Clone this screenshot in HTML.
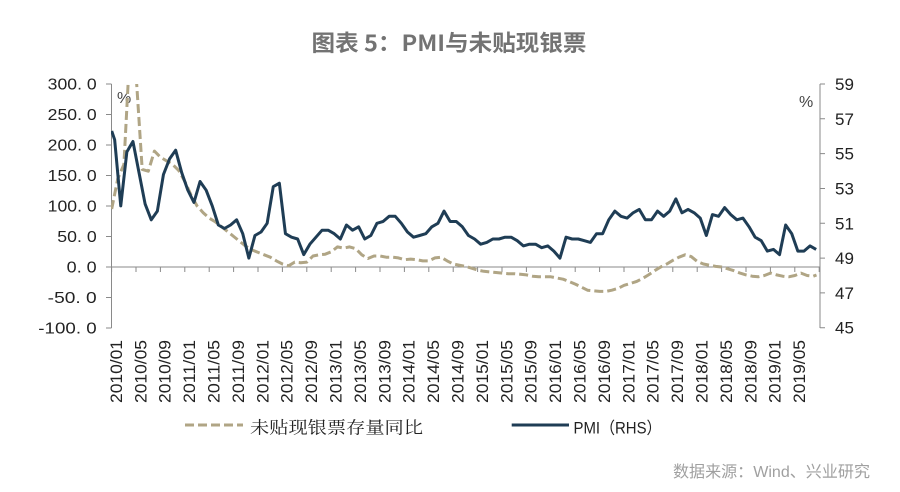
<!DOCTYPE html>
<html><head><meta charset="utf-8"><style>
html,body{margin:0;padding:0;background:#fff;}
svg{display:block;}
.ax{font-family:"Liberation Sans","Noto Sans CJK SC",sans-serif;fill:#222;}
</style></head><body>
<svg width="900" height="492" viewBox="0 0 900 492" xmlns="http://www.w3.org/2000/svg">
<defs><clipPath id="pc"><rect x="111" y="84" width="709" height="245"/></clipPath></defs>
<rect width="900" height="492" fill="#fff"/>
<!-- title -->
<text x="311.5" y="51" font-family="'Noto Sans CJK SC','Liberation Sans',sans-serif" font-size="22.5" font-weight="600" fill="#737373" textLength="275" lengthAdjust="spacingAndGlyphs">图表 5：PMI与未贴现银票</text>

<!-- axes -->
<g stroke="#8a8a8a" stroke-width="1" fill="none">
<line x1="111.5" y1="84" x2="111.5" y2="328"/>
<line x1="820" y1="84" x2="820" y2="328"/>
<line x1="111.5" y1="267" x2="820" y2="267"/>
<path d="M106 84H111.5M106 114.5H111.5M106 145H111.5M106 175.5H111.5M106 206H111.5M106 236.5H111.5M106 267H111.5M106 297.5H111.5M106 328H111.5"/>
<path d="M820 84H825M820 118.8H825M820 153.6H825M820 188.5H825M820 223.3H825M820 258.1H825M820 292.9H825M820 327.7H825"/>
<path d="M111.6 267V272M136 267V272M160.4 267V272M184.8 267V272M209.2 267V272M233.6 267V272M258 267V272M282.4 267V272M306.8 267V272M331.2 267V272M355.6 267V272M380 267V272M404.4 267V272M428.8 267V272M453.2 267V272M477.6 267V272M502 267V272M526.4 267V272M550.8 267V272M575.2 267V272M599.6 267V272M624 267V272M648.4 267V272M672.8 267V272M697.2 267V272M721.6 267V272M746 267V272M770.4 267V272M794.8 267V272M819.2 267V272"/>
</g>

<!-- left labels -->
<g class="ax" font-size="16">
<text x="47.7" y="89.7" textLength="49" lengthAdjust="spacingAndGlyphs">300. 0</text>
<text x="47.7" y="120.2" textLength="49" lengthAdjust="spacingAndGlyphs">250. 0</text>
<text x="47.7" y="150.7" textLength="49" lengthAdjust="spacingAndGlyphs">200. 0</text>
<text x="47.7" y="181.2" textLength="49" lengthAdjust="spacingAndGlyphs">150. 0</text>
<text x="47.7" y="211.7" textLength="49" lengthAdjust="spacingAndGlyphs">100. 0</text>
<text x="57.3" y="242.2" textLength="39.4" lengthAdjust="spacingAndGlyphs">50. 0</text>
<text x="66.7" y="272.7" textLength="30" lengthAdjust="spacingAndGlyphs">0. 0</text>
<text x="47.7" y="303.2" textLength="49" lengthAdjust="spacingAndGlyphs">-50. 0</text>
<text x="38.3" y="333.7" textLength="58.4" lengthAdjust="spacingAndGlyphs">-100. 0</text>
<text x="117" y="103" fill="#444">%</text>
</g>
<!-- right labels -->
<g class="ax" font-size="17">
<text x="835" y="90">59</text>
<text x="835" y="124.8">57</text>
<text x="835" y="159.6">55</text>
<text x="835" y="194.5">53</text>
<text x="835" y="229.3">51</text>
<text x="835" y="264.1">49</text>
<text x="835" y="298.9">47</text>
<text x="835" y="333.7">45</text>
<text x="799" y="107" font-size="16" fill="#444">%</text>
</g>

<!-- x labels -->
<g class="ax" font-size="17">
<text transform="translate(121.85,403) rotate(-90)" textLength="63" lengthAdjust="spacingAndGlyphs">2010/01</text>
<text transform="translate(146.25,403) rotate(-90)" textLength="63" lengthAdjust="spacingAndGlyphs">2010/05</text>
<text transform="translate(170.65,403) rotate(-90)" textLength="63" lengthAdjust="spacingAndGlyphs">2010/09</text>
<text transform="translate(195.05,403) rotate(-90)" textLength="63" lengthAdjust="spacingAndGlyphs">2011/01</text>
<text transform="translate(219.45,403) rotate(-90)" textLength="63" lengthAdjust="spacingAndGlyphs">2011/05</text>
<text transform="translate(243.85,403) rotate(-90)" textLength="63" lengthAdjust="spacingAndGlyphs">2011/09</text>
<text transform="translate(268.25,403) rotate(-90)" textLength="63" lengthAdjust="spacingAndGlyphs">2012/01</text>
<text transform="translate(292.65,403) rotate(-90)" textLength="63" lengthAdjust="spacingAndGlyphs">2012/05</text>
<text transform="translate(317.05,403) rotate(-90)" textLength="63" lengthAdjust="spacingAndGlyphs">2012/09</text>
<text transform="translate(341.45,403) rotate(-90)" textLength="63" lengthAdjust="spacingAndGlyphs">2013/01</text>
<text transform="translate(365.85,403) rotate(-90)" textLength="63" lengthAdjust="spacingAndGlyphs">2013/05</text>
<text transform="translate(390.25,403) rotate(-90)" textLength="63" lengthAdjust="spacingAndGlyphs">2013/09</text>
<text transform="translate(414.65,403) rotate(-90)" textLength="63" lengthAdjust="spacingAndGlyphs">2014/01</text>
<text transform="translate(439.05,403) rotate(-90)" textLength="63" lengthAdjust="spacingAndGlyphs">2014/05</text>
<text transform="translate(463.45,403) rotate(-90)" textLength="63" lengthAdjust="spacingAndGlyphs">2014/09</text>
<text transform="translate(487.85,403) rotate(-90)" textLength="63" lengthAdjust="spacingAndGlyphs">2015/01</text>
<text transform="translate(512.25,403) rotate(-90)" textLength="63" lengthAdjust="spacingAndGlyphs">2015/05</text>
<text transform="translate(536.65,403) rotate(-90)" textLength="63" lengthAdjust="spacingAndGlyphs">2015/09</text>
<text transform="translate(561.05,403) rotate(-90)" textLength="63" lengthAdjust="spacingAndGlyphs">2016/01</text>
<text transform="translate(585.45,403) rotate(-90)" textLength="63" lengthAdjust="spacingAndGlyphs">2016/05</text>
<text transform="translate(609.85,403) rotate(-90)" textLength="63" lengthAdjust="spacingAndGlyphs">2016/09</text>
<text transform="translate(634.25,403) rotate(-90)" textLength="63" lengthAdjust="spacingAndGlyphs">2017/01</text>
<text transform="translate(658.65,403) rotate(-90)" textLength="63" lengthAdjust="spacingAndGlyphs">2017/05</text>
<text transform="translate(683.05,403) rotate(-90)" textLength="63" lengthAdjust="spacingAndGlyphs">2017/09</text>
<text transform="translate(707.45,403) rotate(-90)" textLength="63" lengthAdjust="spacingAndGlyphs">2018/01</text>
<text transform="translate(731.85,403) rotate(-90)" textLength="63" lengthAdjust="spacingAndGlyphs">2018/05</text>
<text transform="translate(756.25,403) rotate(-90)" textLength="63" lengthAdjust="spacingAndGlyphs">2018/09</text>
<text transform="translate(780.65,403) rotate(-90)" textLength="63" lengthAdjust="spacingAndGlyphs">2019/01</text>
<text transform="translate(805.05,403) rotate(-90)" textLength="63" lengthAdjust="spacingAndGlyphs">2019/05</text>
</g>

<!-- series -->
<g clip-path="url(#pc)" fill="none" stroke-linejoin="round">
<polyline stroke="#b0a585" stroke-width="3" stroke-dasharray="9 4" points="111.7,209 117.8,178.6 123.9,164.5 130,47.4 136.1,74.9 142.2,169.4 148.3,171.2 154.4,151.1 160.5,157.2 166.6,160.9 172.7,164.5 178.8,170.6 184.9,181.6 191,195 197.1,206 203.2,212.7 209.3,218.2 215.4,221.9 221.5,226.7 227.6,231.6 233.7,236.5 239.8,241.4 245.9,246.3 252,249.9 258.1,252.4 264.2,254.8 270.3,257.2 276.4,260.9 282.5,264 288.6,265.8 294.7,262.1 300.8,262.7 306.9,262.1 313,256 319.1,254.8 325.2,254.2 331.3,251.8 337.4,246.9 343.5,248.1 349.6,246.9 355.7,248.7 361.8,254.8 367.9,258.5 374,256 380.1,256 386.2,257.2 392.3,257.2 398.4,257.9 404.5,259.7 410.6,259.1 416.7,259.7 422.8,260.9 428.9,260.9 435,257.9 441.1,257.2 447.2,260.9 453.3,264 459.4,265.2 465.5,266.4 471.6,268.2 477.7,270.1 483.8,271.3 489.9,271.9 496,272.5 502.1,273.1 508.2,273.7 514.3,273.7 520.4,274.3 526.5,274.9 532.6,276.2 538.7,276.8 544.8,276.8 550.9,276.8 557,278 563.1,279.2 569.2,281.6 575.3,284.1 581.4,287.1 587.5,290.2 593.6,290.8 599.7,291.4 605.8,291.4 611.9,290.2 618,288.4 624.1,285.3 630.2,283.5 636.3,281.6 642.4,278.6 648.5,274.9 654.6,270.7 660.7,267 666.8,264 672.9,260.3 679,257.2 685.1,254.8 691.2,256.6 697.3,261.5 703.4,264 709.5,265.2 715.6,266.4 721.7,267 727.8,268.8 733.9,270.7 740,273.1 746.1,274.9 752.2,276.2 758.3,276.8 764.4,275.5 770.5,273.1 776.6,274.9 782.7,276.2 788.8,276.8 794.9,275.5 801,273.1 807.1,275.5 813.2,276.2 816.5,275"/>
<polyline stroke="#1f3d55" stroke-width="3" points="111.7,131 114.65,139.7 120.75,205.9 126.85,151.9 132.95,141.5 139.05,172.8 145.15,204.1 151.25,219.8 157.35,211.1 163.45,174.5 169.55,158.9 175.65,150.2 181.75,172.8 187.85,190.2 193.95,202.4 200.05,181.5 206.15,190.2 212.25,205.9 218.35,225 224.45,228.5 230.55,225 236.65,219.8 242.75,233.7 248.85,258.1 254.95,235.5 261.05,232 267.15,223.3 273.25,186.7 279.35,183.2 285.45,233.7 291.55,237.2 297.65,239 303.75,254.6 309.85,244.2 315.95,237.2 322.05,230.2 328.15,230.2 334.25,233.7 340.35,239 346.45,225 352.55,230.2 358.65,226.8 364.75,239 370.85,235.5 376.95,223.3 383.05,221.5 389.15,216.3 395.25,216.3 401.35,223.3 407.45,232 413.55,237.2 419.65,235.5 425.75,233.7 431.85,226.8 437.95,223.3 444.05,211.1 450.15,221.5 456.25,221.5 462.35,226.8 468.45,235.5 474.55,239 480.65,244.2 486.75,242.4 492.85,239 498.95,239 505.05,237.2 511.15,237.2 517.25,240.7 523.35,245.9 529.45,244.2 535.55,244.2 541.65,247.7 547.75,245.9 553.85,251.1 559.95,258.1 566.05,237.2 572.15,239 578.25,239 584.35,240.7 590.45,242.4 596.55,233.7 602.65,233.7 608.75,219.8 614.85,211.1 620.95,216.3 627.05,218.1 633.15,212.8 639.25,209.4 645.35,219.8 651.45,219.8 657.55,211.1 663.65,216.3 669.75,211.1 675.85,198.9 681.95,212.8 688.05,209.4 694.15,212.8 700.25,218.1 706.35,235.5 712.45,214.6 718.55,216.3 724.65,207.6 730.75,214.6 736.85,219.8 742.95,218.1 749.05,226.8 755.15,237.2 761.25,240.7 767.35,251.1 773.45,249.4 779.55,254.6 785.65,225 791.75,233.7 797.85,251.1 803.95,251.1 810.05,245.9 816.15,249.4"/>
</g>

<!-- legend -->
<line x1="185" y1="425" x2="243" y2="425" stroke="#b0a585" stroke-width="3" stroke-dasharray="9 4"/>
<text x="250" y="433.6" font-family="'Liberation Serif','Noto Serif CJK SC',serif" font-size="17" fill="#222" textLength="173" lengthAdjust="spacingAndGlyphs">未贴现银票存量同比</text>
<line x1="511.7" y1="425" x2="569" y2="425" stroke="#1f3d55" stroke-width="3"/>
<text x="573.5" y="433.3" font-family="'Liberation Sans','Noto Sans CJK SC',sans-serif" font-size="16.5" fill="#222" textLength="88" lengthAdjust="spacingAndGlyphs">PMI（RHS）</text>

<!-- source -->
<text x="673" y="477" font-family="'Liberation Sans','Noto Sans CJK SC',sans-serif" font-size="16" fill="#a0a0a0" textLength="197" lengthAdjust="spacingAndGlyphs">数据来源：Wind、兴业研究</text>
</svg>
</body></html>
